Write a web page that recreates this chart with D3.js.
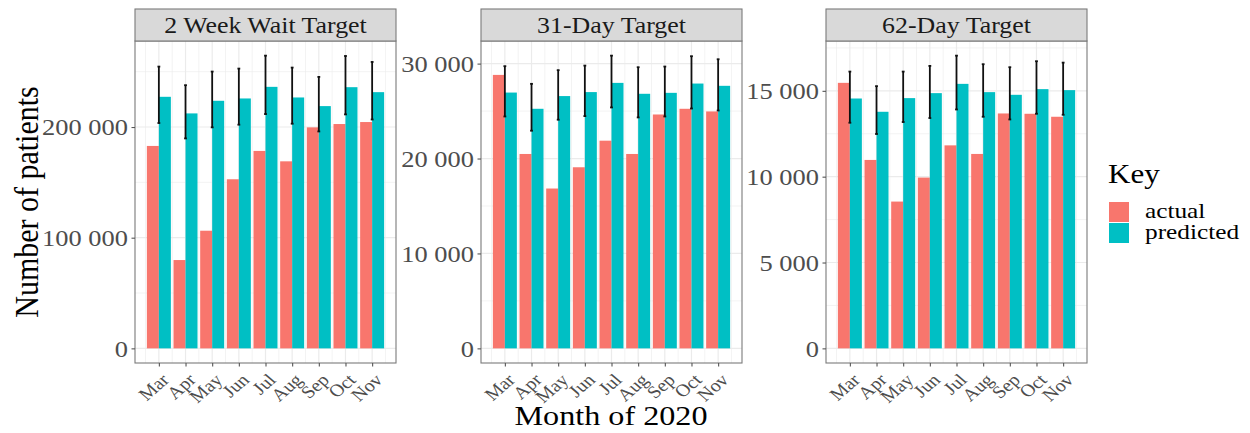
<!DOCTYPE html>
<html>
<head>
<meta charset="utf-8">
<script src="https://cdn.jsdelivr.net/npm/d3@7"></script>
<style>
  html, body { margin: 0; padding: 0; background: #fff; }
  svg { display: block; }
  svg text { font-family: "Liberation Serif", "Times New Roman", serif; }
</style>
</head>
<body>
<svg id="chart" width="1250" height="433"></svg>
<script>
// Months shown on every panel
const months = ["Mar", "Apr", "May", "Jun", "Jul", "Aug", "Sep", "Oct", "Nov"];

// Panel titles
const panelTitles = ["2 Week Wait Target", "31-Day Target", "62-Day Target"];

// Two-week-wait target
const actual2ww    = [182900, 79800, 106300, 152800, 178400, 169000, 199700, 202700, 204500];
const predicted2ww = [227300, 212300, 223700, 225800, 236300, 226700, 218900, 236000, 231500];
const lower2ww     = [203600, 189700, 199700, 202100, 211700, 203000, 196000, 211400, 206800];
const upper2ww     = [254600, 237800, 250100, 252800, 264500, 253700, 245300, 264200, 258800];

// 31-day target
const actual31    = [28810, 20480, 16840, 19080, 21880, 20480, 24640, 25240, 24960];
const predicted31 = [26950, 25240, 26580, 27000, 27970, 26820, 26920, 27900, 27660];
const lower31     = [24430, 22930, 24090, 24470, 25380, 24330, 24430, 25270, 25060];
const upper31     = [29730, 27870, 29310, 29790, 30840, 29620, 29690, 30780, 30460];

// 62-day target
const actual62    = [15465, 10975, 8550, 9948, 11824, 11324, 13682, 13664, 13490];
const predicted62 = [14553, 13780, 14576, 14866, 15406, 14924, 14768, 15099, 15041];
const lower62     = [13142, 12485, 13182, 13415, 13914, 13490, 13333, 13664, 13606];
const upper62     = [16121, 15273, 16121, 16452, 17050, 16551, 16376, 16725, 16643];

// Y-axis tick labels per panel
const yTicks2ww = [0, 100000, 200000];
const yTicks31  = [0, 10000, 20000, 30000];
const yTicks62  = [0, 5000, 10000, 15000];

// Legend and titles
const seriesKeys = ["actual", "predicted"];
const legendTitle = "Key";
const xTitle = "Month of 2020";
const yTitle = "Number of patients";

const panels = [
  { title: panelTitles[0], actual: actual2ww, predicted: predicted2ww, lower: lower2ww, upper: upper2ww, ticks: yTicks2ww },
  { title: panelTitles[1], actual: actual31,  predicted: predicted31,  lower: lower31,  upper: upper31,  ticks: yTicks31 },
  { title: panelTitles[2], actual: actual62,  predicted: predicted62,  lower: lower62,  upper: upper62,  ticks: yTicks62 }
];

const colour = d3.scaleOrdinal().domain(seriesKeys).range(["#F8766D", "#00BFC4"]);
const fmt = d3.formatLocale({ decimal: ".", thousands: " ", grouping: [3], currency: ["", ""] }).format(",d");

// text in this figure is set slightly wide
const SX = 1.15;
const FONT = "Liberation Serif, Times New Roman, serif";

// place a text at (x, y) with horizontal widening and optional rotation
function placeText(sel, x, y, rot) {
  return sel.attr("x", 0).attr("y", 0)
    .attr("transform", `translate(${x},${y}) scale(${SX},1)` + (rot ? ` rotate(${rot})` : ""));
}

const svg = d3.select("#chart");
svg.append("rect").attr("width", 1250).attr("height", 433).attr("fill", "#fff");

const panelLefts = [135, 481, 826];
const panelW = 261;
const stripTop = 9, panelTop = 41, panelBottom = 363;

const barW = 0.9;              // dodge width
const idx = months.map((m, i) => i + 1);

panels.forEach((p, k) => {
  const left = panelLefts[k];
  const g = svg.append("g");

  // continuous x with 5% expansion around the bar extent
  const lo = 1 - barW / 2, hi = months.length + barW / 2;
  const pad = (hi - lo) * 0.05;
  const x = d3.scaleLinear().domain([lo - pad, hi + pad]).range([left, left + panelW]);

  const ymax = d3.max(p.upper.concat(p.actual, p.predicted));
  const y = d3.scaleLinear().domain([-0.05 * ymax, 1.05 * ymax]).range([panelBottom, panelTop]);

  // grid: minor then major
  const step = p.ticks[1] - p.ticks[0];
  const minorY = d3.range(step / 2, y.domain()[1], step);
  const minorX = d3.range(0.5, months.length + 1, 1);
  g.append("g").selectAll("line").data(minorY).join("line")
    .attr("x1", left).attr("x2", left + panelW)
    .attr("y1", d => y(d)).attr("y2", d => y(d))
    .attr("stroke", "#ebebeb").attr("stroke-width", 0.6);
  g.append("g").selectAll("line").data(minorX).join("line")
    .attr("y1", panelTop).attr("y2", panelBottom)
    .attr("x1", d => x(d)).attr("x2", d => x(d))
    .attr("stroke", "#ebebeb").attr("stroke-width", 0.6);
  g.append("g").selectAll("line").data(p.ticks).join("line")
    .attr("x1", left).attr("x2", left + panelW)
    .attr("y1", d => y(d)).attr("y2", d => y(d))
    .attr("stroke", "#ebebeb").attr("stroke-width", 1.2);
  g.append("g").selectAll("line").data(idx).join("line")
    .attr("y1", panelTop).attr("y2", panelBottom)
    .attr("x1", d => x(d)).attr("x2", d => x(d))
    .attr("stroke", "#ebebeb").attr("stroke-width", 1.2);

  // bars
  const half = barW / 2;
  const rows = [];
  idx.forEach((c, i) => {
    rows.push({ c, key: "actual", v: p.actual[i], x0: c - half, x1: c });
    rows.push({ c, key: "predicted", v: p.predicted[i], x0: c, x1: c + half });
  });
  g.append("g").selectAll("rect").data(rows).join("rect")
    .attr("x", d => x(d.x0))
    .attr("width", d => x(d.x1) - x(d.x0))
    .attr("y", d => y(d.v))
    .attr("height", d => y(0) - y(d.v))
    .attr("fill", d => colour(d.key));

  // error bars around the prediction
  const eb = g.append("g").attr("stroke", "#111").attr("stroke-width", 1.8);
  idx.forEach((c, i) => {
    eb.append("line").attr("x1", x(c)).attr("x2", x(c))
      .attr("y1", y(p.lower[i])).attr("y2", y(p.upper[i]));
    [p.lower[i], p.upper[i]].forEach(v => {
      eb.append("line").attr("x1", x(c) - 1.4).attr("x2", x(c) + 1.4)
        .attr("y1", y(v)).attr("y2", y(v));
    });
  });

  // panel border
  g.append("rect").attr("x", left).attr("y", panelTop).attr("width", panelW)
    .attr("height", panelBottom - panelTop).attr("fill", "none")
    .attr("stroke", "#7a7a7a").attr("stroke-width", 1.1);

  // strip
  g.append("rect").attr("x", left).attr("y", stripTop).attr("width", panelW)
    .attr("height", panelTop - stripTop).attr("fill", "#d9d9d9")
    .attr("stroke", "#7a7a7a").attr("stroke-width", 1.1);
  placeText(g.append("text"), left + panelW / 2, 32.5)
    .attr("text-anchor", "middle").attr("font-size", 22.5).attr("fill", "#1a1a1a")
    .attr("font-family", FONT).text(p.title);

  // y axis
  const ya = g.append("g").attr("transform", `translate(${left},0)`)
    .call(d3.axisLeft(y).tickValues(p.ticks).tickFormat(fmt).tickSize(3.5).tickPadding(3));
  ya.select(".domain").remove();
  ya.selectAll(".tick line").attr("stroke", "#555").attr("stroke-width", 1.1);
  ya.selectAll(".tick text").each(function () {
    placeText(d3.select(this), -7, 0)
      .attr("dy", "0.34em").attr("text-anchor", "end")
      .attr("font-size", 23).attr("fill", "#4d4d4d").attr("font-family", FONT);
  });

  // x axis
  const xa = g.append("g").attr("transform", `translate(0,${panelBottom})`)
    .call(d3.axisBottom(x).tickValues(idx).tickFormat(d => months[d - 1]).tickSize(3.5));
  xa.select(".domain").remove();
  xa.selectAll(".tick line").attr("stroke", "#555").attr("stroke-width", 1.1);
  xa.selectAll(".tick text").each(function () {
    placeText(d3.select(this), 11, 18, -45)
      .attr("dy", 0).attr("text-anchor", "end")
      .attr("font-size", 17.5).attr("fill", "#4d4d4d").attr("font-family", FONT);
  });
});

// axis titles
placeText(svg.append("text"), 611, 425)
  .attr("text-anchor", "middle").attr("font-size", 28).attr("fill", "#000")
  .attr("font-family", FONT).text(xTitle);
placeText(svg.append("text"), 38, 202, -90)
  .attr("text-anchor", "middle").attr("font-size", 30).attr("fill", "#000")
  .attr("font-family", FONT).text(yTitle);

// legend
const lg = svg.append("g");
placeText(lg.append("text"), 1108, 183)
  .attr("font-size", 27).attr("fill", "#000").attr("font-family", FONT).text(legendTitle);
seriesKeys.forEach((k, i) => {
  lg.append("rect").attr("x", 1109).attr("y", 202 + i * 21).attr("width", 20).attr("height", 20)
    .attr("fill", colour(k));
  placeText(lg.append("text"), 1145, 218 + i * 21)
    .attr("font-size", 22).attr("fill", "#000").attr("font-family", FONT).text(k);
});
</script>
</body>
</html>
